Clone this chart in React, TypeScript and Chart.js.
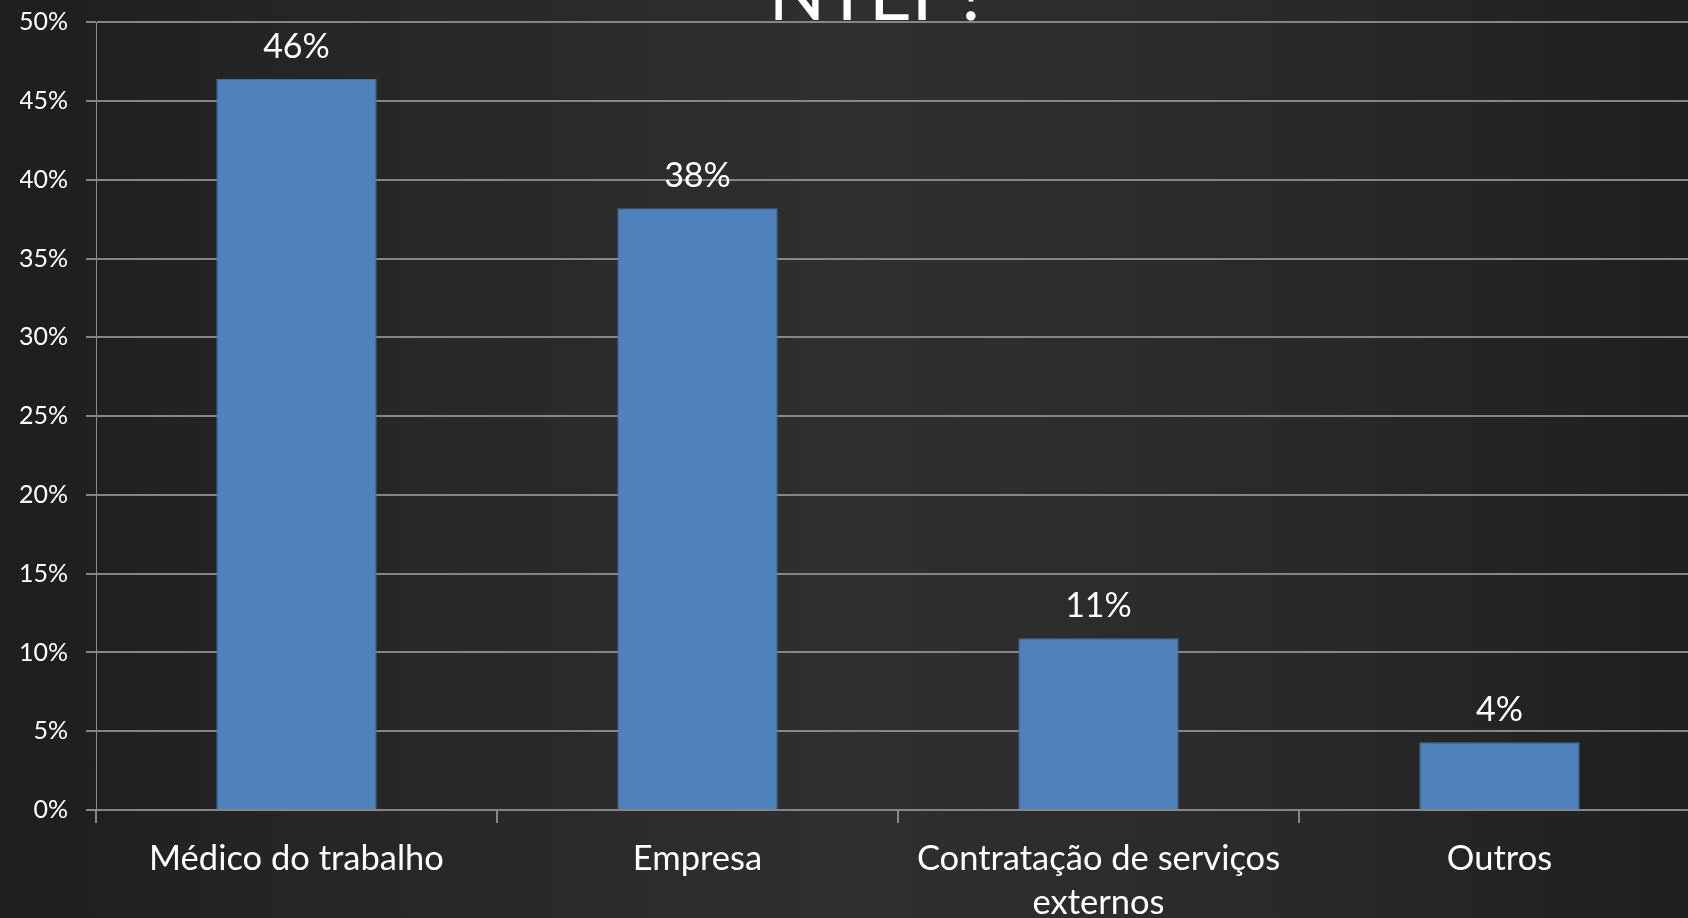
import React, { useEffect, useRef } from "react";
import { Chart, registerables } from "chart.js";

Chart.register(...registerables);

const categories: (string | string[])[] = [
  "Médico do trabalho",
  "Empresa",
  ["Contratação de serviços", "externos"],
  "Outros",
];
const values: number[] = [0.464, 0.382, 0.109, 0.043];
const titleText = "\u00a0\u00a0NTEP?";
const yMin = 0;
const yMax = 0.5;
const yStep = 0.05;

const FONT = "Lato, 'Open Sans', sans-serif";

const dataLabelPlugin = {
  id: "dataLabels",
  afterDatasetsDraw(chart: any) {
    const ctx = chart.ctx;
    const meta = chart.getDatasetMeta(0);
    ctx.save();
    ctx.fillStyle = "#ffffff";
    ctx.font = `34px ${FONT}`;
    ctx.textAlign = "center";
    ctx.textBaseline = "alphabetic";
    meta.data.forEach((el: any, i: number) => {
      const v = chart.data.datasets[0].data[i] as number;
      ctx.fillText(Math.round(v * 100) + "%", el.x, el.y - 21);
    });
    ctx.restore();
  },
};

export default function App() {
  const ref = useRef<HTMLCanvasElement | null>(null);

  useEffect(() => {
    if (!ref.current) return;
    const chart = new Chart(ref.current, {
      type: "bar",
      data: {
        labels: categories,
        datasets: [
          {
            data: values,
            backgroundColor: "#4f81bd",
            borderColor: "#40709f",
            borderWidth: 1,
            borderSkipped: "bottom",
            barPercentage: 0.4,
            categoryPercentage: 1,
          },
        ],
      },
      options: {
        responsive: false,
        animation: false,
        layout: { padding: { left: 20, right: 0, top: 31, bottom: 0 } },
        plugins: {
          legend: { display: false },
          tooltip: { enabled: false },
          title: {
            display: true,
            text: titleText,
            color: "#ffffff",
            font: { family: FONT, size: 74, weight: "normal", lineHeight: 0.68 },
            padding: { top: 0, bottom: 1 },
          },
        },
        scales: {
          x: {
            offset: true,
            grid: {
              offset: true,
              drawOnChartArea: false,
              drawTicks: true,
              tickLength: 13,
              color: "#868686",
              lineWidth: 2,
            },
            border: { color: "#868686", width: 2 },
            ticks: {
              color: "#ffffff",
              font: { family: FONT, size: 34.5, lineHeight: 1.27 },
              padding: 14,
              maxRotation: 0,
              autoSkip: false,
            },
            afterFit: (s: any) => {
              s.height = 108;
            },
          },
          y: {
            min: yMin,
            max: yMax,
            grid: {
              color: "#868686",
              lineWidth: 2,
              drawTicks: true,
              tickLength: 10,
            },
            border: { color: "#8a8a8a", width: 1 },
            ticks: {
              stepSize: yStep,
              color: "#ffffff",
              font: { family: FONT, size: 25 },
              padding: 18,
              callback: (v: any) => Math.round(Number(v) * 100) + "%",
            },
            afterFit: (s: any) => {
              s.width = 76;
            },
          },
        },
      },
      plugins: [dataLabelPlugin],
    });
    return () => chart.destroy();
  }, []);

  return (
    <div
      style={{
        position: "fixed",
        left: 0,
        top: 0,
        width: "1688px",
        height: "918px",
        overflow: "hidden",
        background:
          "linear-gradient(to right, #1e1e1e 0%, #262626 20%, #2f2f2f 50%, #2a2a2a 75%, #1f1f1f 100%)",
      }}
    >
      <canvas
        ref={ref}
        width={1700}
        height={978}
        style={{ position: "absolute", left: 0, top: "-60px" }}
      />
    </div>
  );
}
